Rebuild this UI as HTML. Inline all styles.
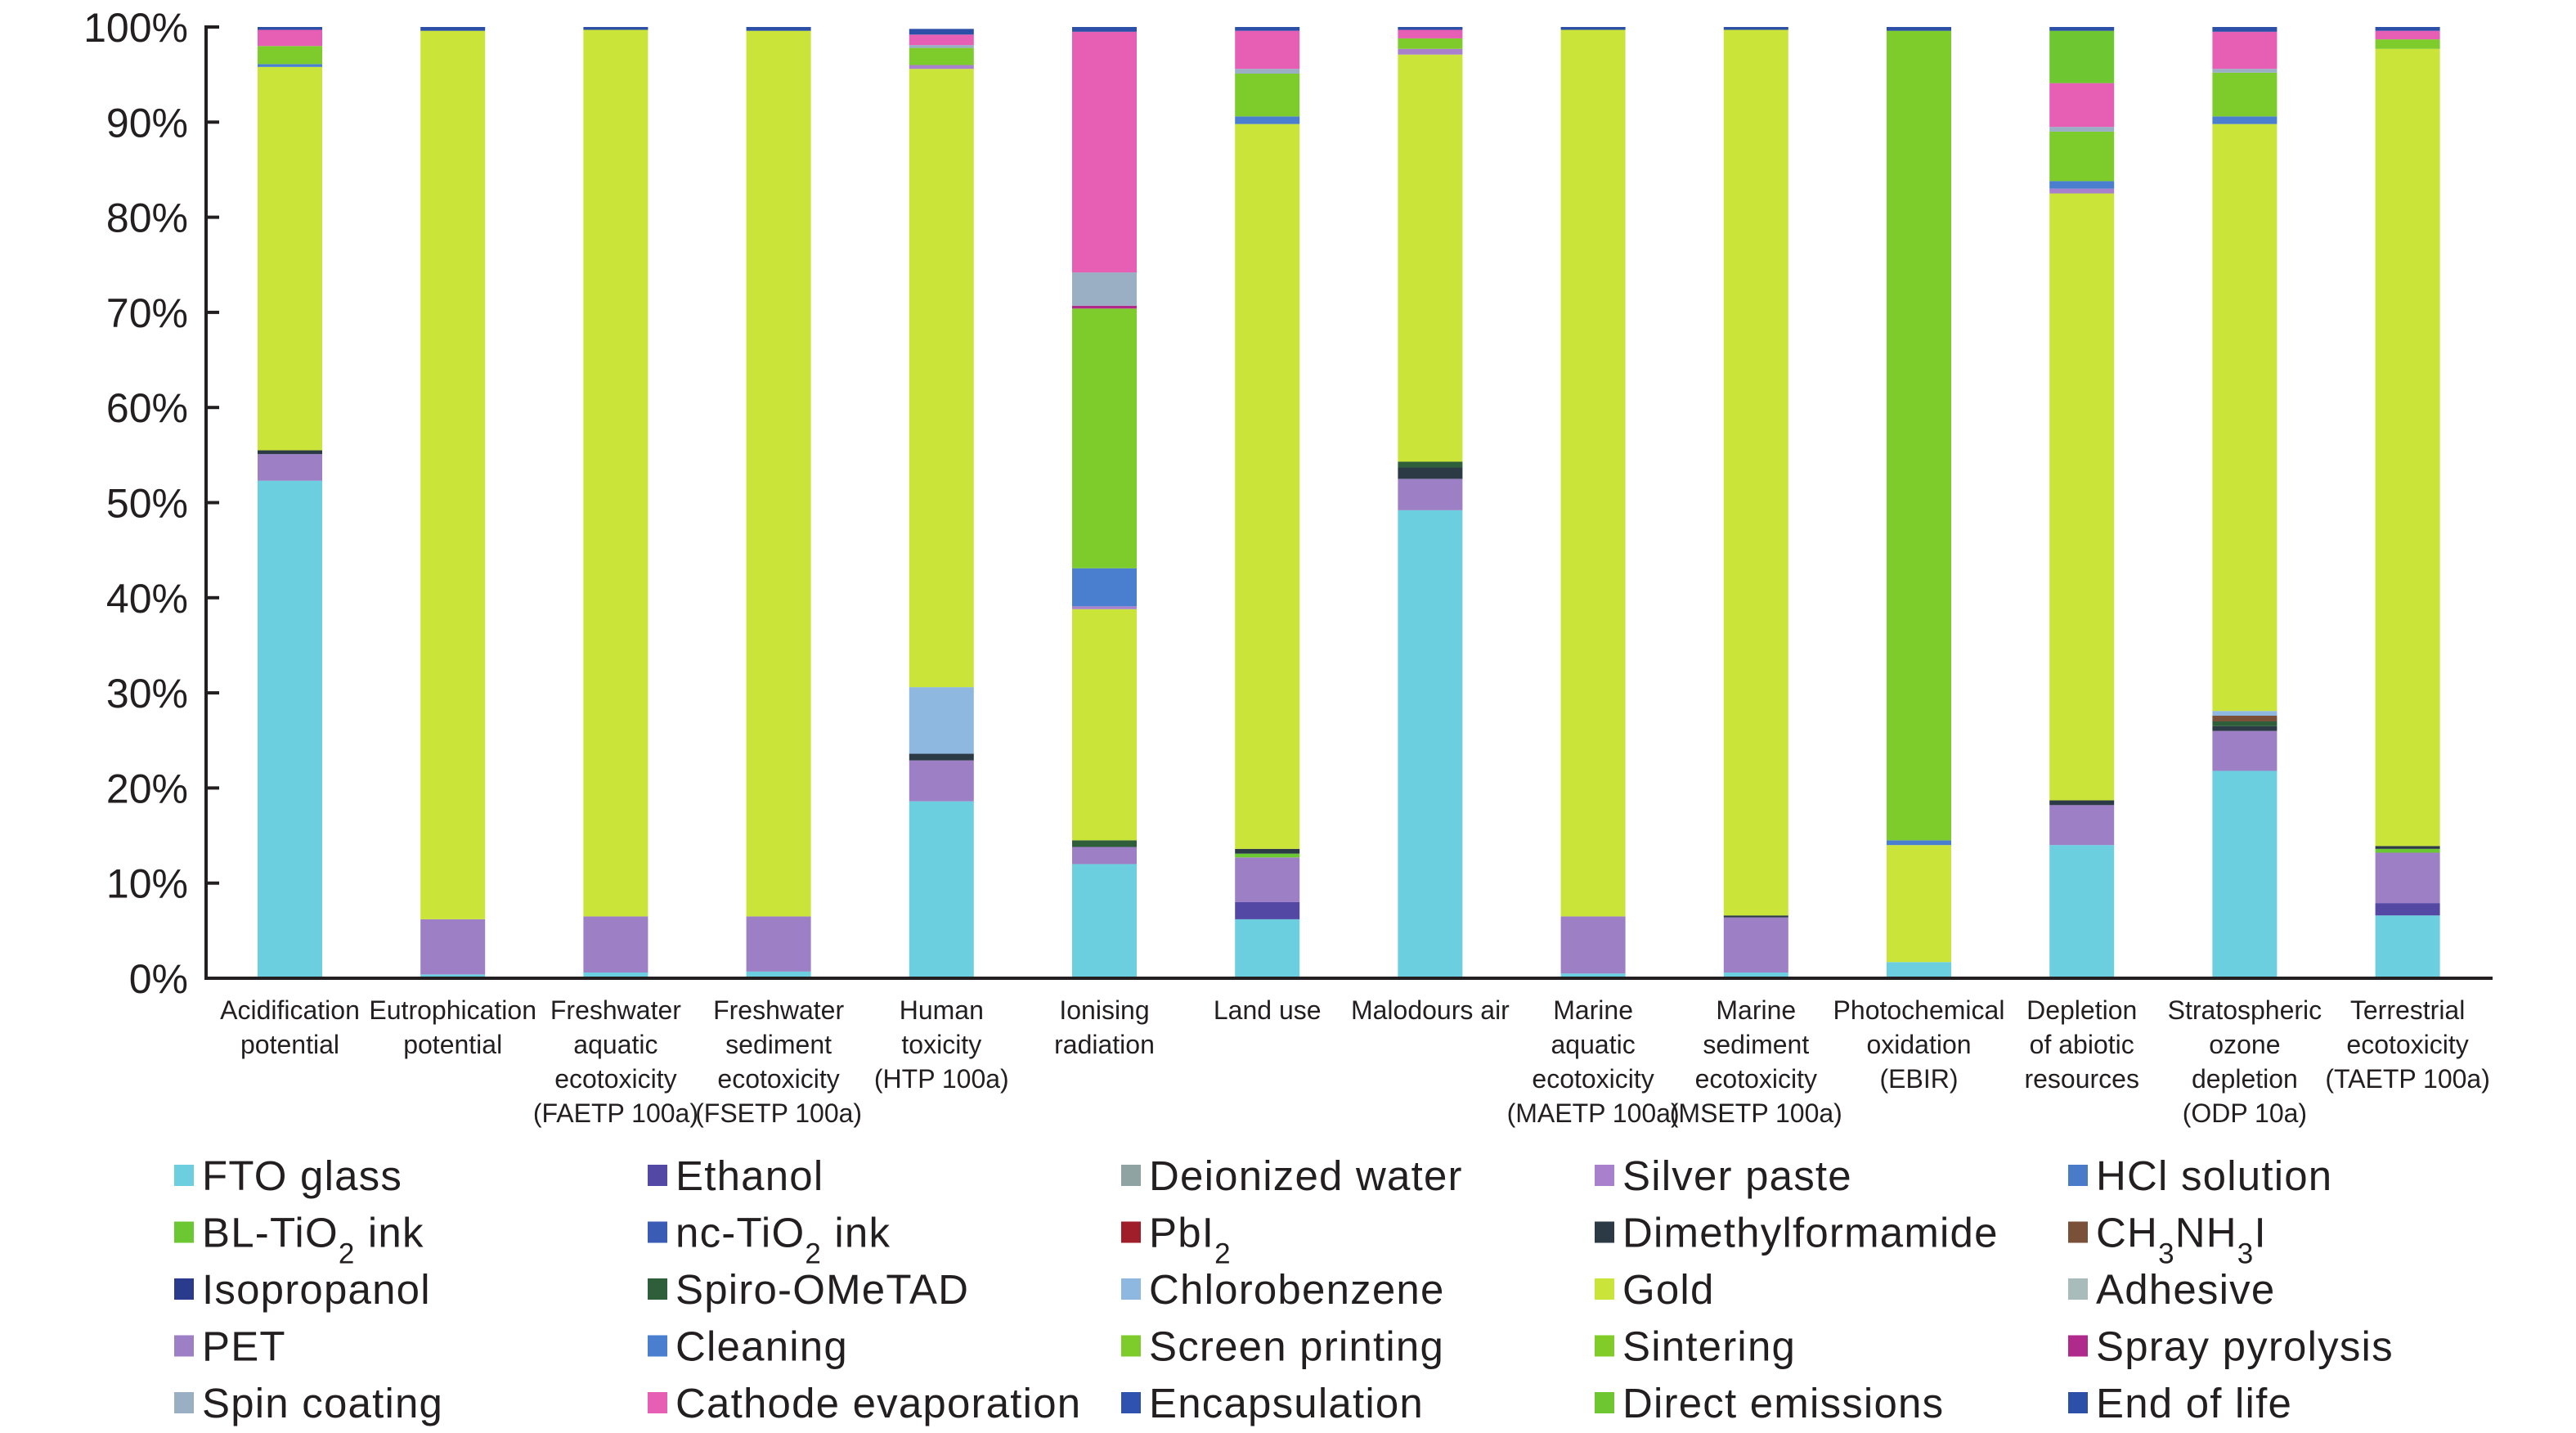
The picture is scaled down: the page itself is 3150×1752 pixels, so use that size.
<!DOCTYPE html>
<html><head><meta charset="utf-8"><style>
html,body{margin:0;padding:0;background:#fff;}
svg{display:block;font-family:"Liberation Sans",sans-serif;}
</style></head><body>
<svg id="chart" width="3150" height="1752" viewBox="0 0 3150 1752" xmlns="http://www.w3.org/2000/svg">
<g id="bars"></g>
<g id="axes"></g>
<g id="legend"></g>
</svg>
<script>
const categories = [
 ["Acidification","potential"],["Eutrophication","potential"],["Freshwater","aquatic","ecotoxicity","(FAETP 100a)"],
 ["Freshwater","sediment","ecotoxicity","(FSETP 100a)"],["Human","toxicity","(HTP 100a)"],["Ionising","radiation"],
 ["Land use"],["Malodours air"],["Marine","aquatic","ecotoxicity","(MAETP 100a)"],["Marine","sediment","ecotoxicity","(MSETP 100a)"],
 ["Photochemical","oxidation","(EBIR)"],["Depletion","of abiotic","resources"],["Stratospheric","ozone","depletion","(ODP 10a)"],
 ["Terrestrial","ecotoxicity","(TAETP 100a)"]
];
const tickLabels = ["0%","10%","20%","30%","40%","50%","60%","70%","80%","90%","100%"];
// stacking order bottom -> top
const stackSeries = ["FTO glass","Ethanol","PET","BL-TiO2 ink","Dimethylformamide","Spiro-OMeTAD","CH3NH3I","Chlorobenzene","Gold","Silver paste","Cleaning","Screen printing","Spray pyrolysis","Spin coating","Cathode evaporation","Direct emissions","End of life"];
const vFTO      = [52.3,0.4,0.6,0.7,18.6,12.0,6.2,49.2,0.5,0.6,1.7,14.0,21.8,6.6];
const vEthanol  = [0,0,0,0,0,0,1.8,0,0,0,0,0,0,1.3];
const vPET      = [2.8,5.8,5.9,5.8,4.3,1.8,4.7,3.3,6.0,5.8,0,4.2,4.2,5.3];
const vBLTiO2   = [0,0,0,0,0,0,0.4,0,0,0,0,0,0,0.4];
const vDMF      = [0.4,0,0,0,0.7,0,0.5,1.2,0,0.2,0,0.5,0.5,0.3];
const vSpiro    = [0,0,0,0,0,0.7,0,0.6,0,0,0,0,0.5,0];
const vCH3NH3I  = [0,0,0,0,0,0,0,0,0,0,0,0,0.6,0];
const vChloro   = [0,0,0,0,7.0,0,0,0,0,0,0,0,0.5,0];
const vGold     = [40.3,93.4,93.2,93.1,65.0,24.3,76.2,42.8,93.2,93.1,12.3,63.8,61.7,83.8];
const vSilver   = [0,0,0,0,0.4,0.3,0,0.6,0,0,0,0.5,0,0];
const vCleaning = [0.3,0,0,0,0,4.0,0.8,0,0,0,0.5,0.8,0.8,0];
const vScreen   = [1.9,0,0,0,1.8,27.3,4.5,1.1,0,0,85.1,5.2,4.6,1.0];
const vSpray    = [0,0,0,0,0,0.3,0,0,0,0,0,0,0,0];
const vSpin     = [0,0,0,0,0.3,3.5,0.5,0,0,0,0,0.5,0.4,0];
const vCathode  = [1.7,0,0,0,1.1,25.3,4.0,0.9,0,0,0,4.6,3.9,0.9];
const vDirect   = [0,0,0,0,0,0,0,0,0,0,0,5.5,0,0];
const vEnd      = [0.3,0.4,0.3,0.4,0.6,0.5,0.4,0.3,0.3,0.3,0.4,0.4,0.5,0.4];
const stackValues = [vFTO,vEthanol,vPET,vBLTiO2,vDMF,vSpiro,vCH3NH3I,vChloro,vGold,vSilver,vCleaning,vScreen,vSpray,vSpin,vCathode,vDirect,vEnd];
const legendNames = ["FTO glass","Ethanol","Deionized water","Silver paste","HCl solution",
 "BL-TiO2 ink","nc-TiO2 ink","PbI2","Dimethylformamide","CH3NH3I",
 "Isopropanol","Spiro-OMeTAD","Chlorobenzene","Gold","Adhesive",
 "PET","Cleaning","Screen printing","Sintering","Spray pyrolysis",
 "Spin coating","Cathode evaporation","Encapsulation","Direct emissions","End of life"];
const legendHTML = {"BL-TiO2 ink":"BL-TiO<tspan baseline-shift='sub' font-size='35'>2</tspan> ink","nc-TiO2 ink":"nc-TiO<tspan baseline-shift='sub' font-size='35'>2</tspan> ink","PbI2":"PbI<tspan baseline-shift='sub' font-size='35'>2</tspan>","CH3NH3I":"CH<tspan baseline-shift='sub' font-size='35'>3</tspan>NH<tspan baseline-shift='sub' font-size='35'>3</tspan>I"};
const colors = {"FTO glass":"#6bcfdf","Ethanol":"#5448a5","Deionized water":"#8fa3a3","Silver paste":"#a880cc","HCl solution":"#4a7bc9",
 "BL-TiO2 ink":"#6cc832","nc-TiO2 ink":"#3a5cb5","PbI2":"#a01e2a","Dimethylformamide":"#2c3a45","CH3NH3I":"#7a5038",
 "Isopropanol":"#2a3a8c","Spiro-OMeTAD":"#2e5e3a","Chlorobenzene":"#8fb8e0","Gold":"#cbe43a","Adhesive":"#a9bcbc",
 "PET":"#9d7fc6","Cleaning":"#4a7fcf","Screen printing":"#7dcc2c","Sintering":"#82cc2a","Spray pyrolysis":"#b02a8c",
 "Spin coating":"#9aaec4","Cathode evaporation":"#e65fb5","Encapsulation":"#2f52b0","Direct emissions":"#6ec630","End of life":"#2c4fa8"};

const NS="http://www.w3.org/2000/svg";
const X0=252, X1=3048, Y0=1196, Y100=33, FIRST=354.5, STEP=199.2, BW=79;
const yScale = v => Y0 - (Y0-Y100)*v/100;
const xCenter = i => FIRST + i*STEP;
function mk(tag, attrs, parent){const e=document.createElementNS(NS,tag);for(const k in attrs)e.setAttribute(k,attrs[k]);parent.appendChild(e);return e;}
const bars=document.getElementById('bars'), axes=document.getElementById('axes'), legend=document.getElementById('legend');

categories.forEach((cat,i)=>{
  let cum=0;
  stackSeries.forEach((s,k)=>{
    const v=stackValues[k][i]; if(!v) return;
    const r=mk('rect',{x:xCenter(i)-BW/2,y:yScale(cum+v),width:BW,height:yScale(cum)-yScale(cum+v),fill:colors[s]},bars);
    
    
    cum+=v;
  });
  const t=mk('text',{x:xCenter(i),'text-anchor':'middle','font-size':32,fill:'#231f20'},axes);
  
  
  cat.forEach((line,j)=>{const ts=mk('tspan',{x:xCenter(i),y:1246+j*42},t);ts.textContent=line;});
});

const yl=mk('line',{x1:X0,y1:Y100-2,x2:X0,y2:Y0+2,stroke:'#231f20','stroke-width':4},axes);


const xl=mk('line',{x1:X0-2,y1:Y0,x2:X1,y2:Y0,stroke:'#231f20','stroke-width':4},axes);


tickLabels.forEach((lab,i)=>{
  const y=yScale(i*10);
  const tk=mk('line',{x1:X0,y1:y,x2:X0+16,y2:y,stroke:'#231f20','stroke-width':4},axes);
  
  
  const t=mk('text',{x:230,y:y+18,'text-anchor':'end','font-size':50,fill:'#231f20'},axes);
  
  
  t.textContent=lab;
});

legendNames.forEach((n,i)=>{
  const col=i%5,row=Math.floor(i/5);
  const x=213+col*579, y=1437+row*69.5;
  const g=mk('g',{},legend);
  
  
  mk('rect',{x:x,y:y-13,width:24,height:26,fill:colors[n]},g);
  const t=mk('text',{x:x+34,y:y+18,'font-size':51,'letter-spacing':'1.2',fill:'#231f20'},g);
  if(legendHTML[n]) t.innerHTML=legendHTML[n]; else t.textContent=n;
});
</script>
</body></html>
